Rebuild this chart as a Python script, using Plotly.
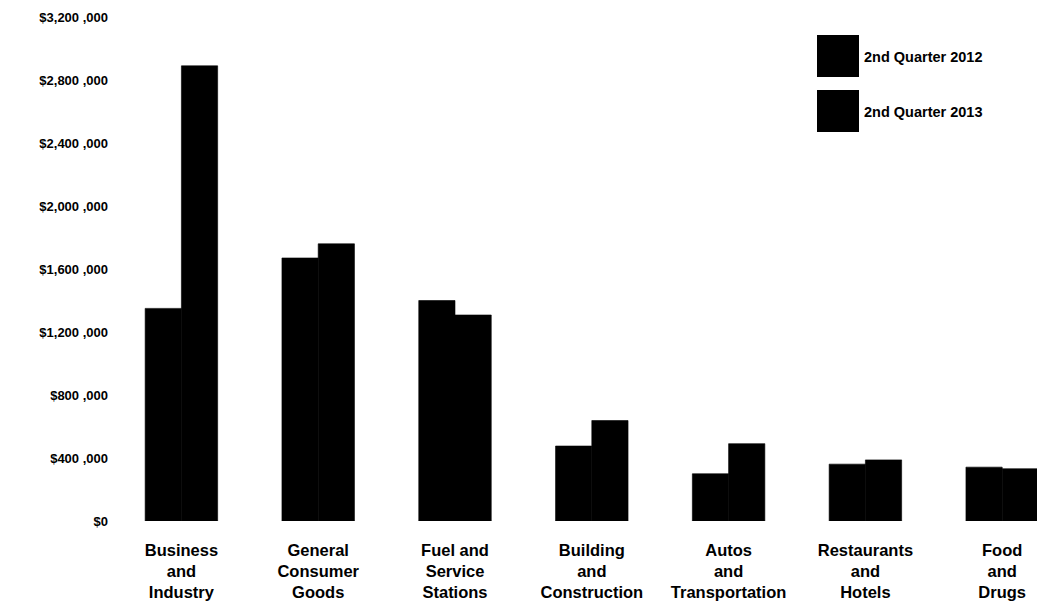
import plotly.graph_objects as go

categories = [
    "Business<br>and<br>Industry",
    "General<br>Consumer<br>Goods",
    "Fuel and<br>Service<br>Stations",
    "Building<br>and<br>Construction",
    "Autos<br>and<br>Transportation",
    "Restaurants<br>and<br>Hotels",
    "Food<br>and<br>Drugs",
]
series_names = ["2nd Quarter 2012", "2nd Quarter 2013"]
q2_2012 = [1350000, 1670000, 1400000, 476000, 300000, 361000, 342000]
q2_2013 = [2890000, 1760000, 1308000, 638000, 491000, 388000, 332000]
tick_values = [0, 400000, 800000, 1200000, 1600000, 2000000, 2400000, 2800000, 3200000]
tick_labels = ["$0", "$400 ,000", "$800 ,000", "$1,200 ,000", "$1,600 ,000",
               "$2,000 ,000", "$2,400 ,000", "$2,800 ,000", "$3,200 ,000"]

W, H = 1045, 613
PAGE_OFF = 8  # default body margin of the html page
L, R, T, B = 113 - PAGE_OFF, 0, 9, 613 - (521 - PAGE_OFF)
plot_w = W - L - R
plot_h = H - T - B
cat_px = 136.8

fig = go.Figure()
for name, vals in zip(series_names, [q2_2012, q2_2013]):
    fig.add_trace(go.Bar(
        x=list(range(len(categories))), y=vals, name=name,
        marker=dict(color="#000000", line=dict(width=0.6, color="#000000")),
        showlegend=False,
    ))

font_family = "Liberation Sans, Arial, sans-serif"

# manual legend with large squares (like the original)
def px_to_paper_x(px):
    return (px - PAGE_OFF - L) / plot_w

def px_to_paper_y(py):
    return (H - B - (py - PAGE_OFF)) / plot_h

legend_tops = [35, 90]
for name, top in zip(series_names, legend_tops):
    fig.add_shape(type="rect", xref="paper", yref="paper",
                  x0=px_to_paper_x(817), x1=px_to_paper_x(859),
                  y0=px_to_paper_y(top + 42), y1=px_to_paper_y(top),
                  fillcolor="#000000", line=dict(width=0))
    fig.add_annotation(xref="paper", yref="paper",
                       x=px_to_paper_x(862), y=px_to_paper_y(top + 22),
                       text="<b>" + name + "</b>", showarrow=False,
                       xanchor="left", yanchor="middle",
                       font=dict(family=font_family, size=14.5, color="#000000"))

fig.update_layout(
    width=W, height=H,
    margin=dict(l=L, r=R, t=T, b=B),
    paper_bgcolor="white", plot_bgcolor="white",
    barmode="group", bargap=0.47, bargroupgap=0,
    font=dict(family=font_family, color="#000000"),
)
fig.update_xaxes(
    tickmode="array", tickvals=list(range(len(categories))),
    ticktext=["<b>" + c.replace("<br>", "</b><br><b>") + "</b>" for c in categories],
    range=[-0.5, -0.5 + plot_w / cat_px],
    showline=False, showgrid=False, zeroline=False,
    ticks="", ticklabelstandoff=17, automargin=False,
    ticklabeloverflow="allow",
    tickfont=dict(family=font_family, size=16.5, color="#000000"),
)
fig.update_yaxes(
    range=[0, 3200000], tickmode="array", tickvals=tick_values,
    ticktext=["<b>" + t + "</b>" for t in tick_labels],
    showline=False, showgrid=False, zeroline=False, ticks="",
    ticklabelstandoff=4, automargin=False,
    ticklabeloverflow="allow",
    tickfont=dict(family=font_family, size=13, color="#000000"),
)

fig.write_html("out.html")
